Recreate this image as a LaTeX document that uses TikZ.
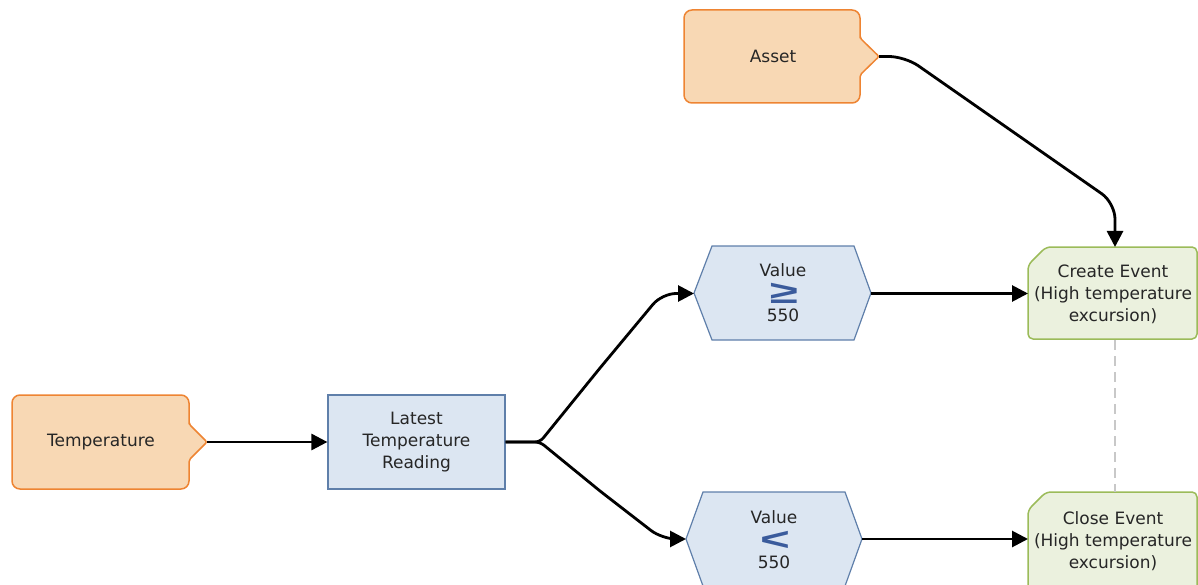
\documentclass[tikz,border=0pt]{standalone}
\usepackage{fontspec}
\usepackage{graphicx}
\setmainfont{DejaVu Sans}
\newfontfamily\symfont{Liberation Sans}
\usetikzlibrary{arrows.meta}
\definecolor{orfill}{HTML}{F8D8B4}
\definecolor{ordraw}{HTML}{EE8432}
\definecolor{blfill}{HTML}{DCE6F2}
\definecolor{bldraw}{HTML}{5F7FAA}
\definecolor{grfill}{HTML}{EBF1DE}
\definecolor{grdraw}{HTML}{9BBB59}
\definecolor{symblue}{HTML}{3A5B9C}
\definecolor{txtcol}{HTML}{262626}
\definecolor{dashgray}{HTML}{C8C8C8}
\tikzset{
  orbox/.style={fill=orfill,draw=ordraw,line width=1.5pt,line join=round},
  blbox/.style={fill=blfill,draw=bldraw,line width=1.2pt},
  grbox/.style={fill=grfill,draw=grdraw,line width=1.5pt},
  lbl/.style={text=txtcol,font=\fontsize{17}{22}\selectfont,align=center,inner sep=0pt},
  sym/.style={text=symblue,font=\symfont\bfseries\fontsize{32}{32}\selectfont,inner sep=0pt,anchor=base,text height=0.5em,text depth=0pt},
  conn/.style={line width=2.8pt,draw=black,-{Triangle[length=16pt,width=16pt]}},
}
\begin{document}
\begin{tikzpicture}[x=1pt,y=-1pt]
\useasboundingbox (0,0) rectangle (1198,585);
% Asset
\draw[orbox] (684,56) [rounded corners=8] -- (684,10) -- (860,10) -- (860,30) [rounded corners=2] -- (860,38) -- (879,56.5) -- (860,75) -- (860,83) [rounded corners=8] -- (860,103) -- (684,103) -- cycle;
\coordinate (assetP) at (879,56.5);
\node[lbl] (assetT) at (773,56) {Asset};
% Temperature
\draw[orbox] (12,442) [rounded corners=8] -- (12,395) -- (189,395) -- (189,416) [rounded corners=2] -- (189,424) -- (207,442) -- (189,460) -- (189,468) [rounded corners=8] -- (189,489) -- (12,489) -- cycle;
\coordinate (tempP) at (207,442);
\node[lbl] (tempT) at (101,442) {Temperature};
% Latest
\node[blbox,lbl,minimum width=177pt,minimum height=94pt] (latest) at (416.5,442) {Latest\\Temperature\\Reading};
% Value >=
\draw[blbox] (712,246) -- (854,246) -- (871,293) -- (854,340) -- (712,340) -- (694,293) -- cycle;
\coordinate (vgeL) at (694,293.5);
\coordinate (vgeR) at (871,293.5);
\node[lbl] (vgeA) at (783,270) {Value};
\node[sym] (vgeS) at (784,303.5) {\scalebox{1.6}[1]{≥}};
\node[lbl] (vgeB) at (783,315) {550};
% Value <
\draw[blbox] (703,492) -- (845,492) -- (862,539) -- (845,586) -- (703,586) -- (686,539) -- cycle;
\coordinate (vltL) at (686,539);
\coordinate (vltR) at (862,539);
\node[lbl] (vltA) at (774,517) {Value};
\node[sym] (vltS) at (775,550) {\scalebox{1.6}[1]{<}};
\node[lbl] (vltB) at (774,562) {550};
% Create event
\draw[grbox,rounded corners=5] (1046,247) -- (1197,247) -- (1197,339) -- (1028,339) -- (1028,265) -- cycle;
\coordinate (createL) at (1028,293.5);
\coordinate (createT) at (1115,247);
\coordinate (createB) at (1115,340);
\node[lbl] (createTx) at (1113,294) {Create Event\\(High temperature\\excursion)};
% Close event
\draw[grbox,rounded corners=5] (1046,492) -- (1197,492) -- (1197,600) -- (1028,600) -- (1028,510) -- cycle;
\coordinate (closeL) at (1028,539);
\coordinate (closeT) at (1115,492);
\node[lbl] (closeTx) at (1113,541) {Close Event\\(High temperature\\excursion)};
% connectors
\draw[conn] (tempP) -- (latest.west);
\coordinate (split) at (540,442);
\draw[conn,rounded corners=5] (latest.east) -- (split) -- (600,368) [rounded corners=14] -- (662,293.5) -- (vgeL);
\draw[conn,rounded corners=5] (latest.east) -- (split) -- (600,491) [rounded corners=14] -- (662,539) -- (vltL);
\draw[conn] (vgeR) -- (createL);
\draw[conn] (vltR) -- (closeL);
\draw[conn,rounded corners=16] (assetP) -- (905,56.5) -- (1115,203) -- (createT);
\draw[dashgray,line width=2pt,dash pattern=on 10pt off 6pt] (createB) -- (closeT);
\end{tikzpicture}
\end{document}
